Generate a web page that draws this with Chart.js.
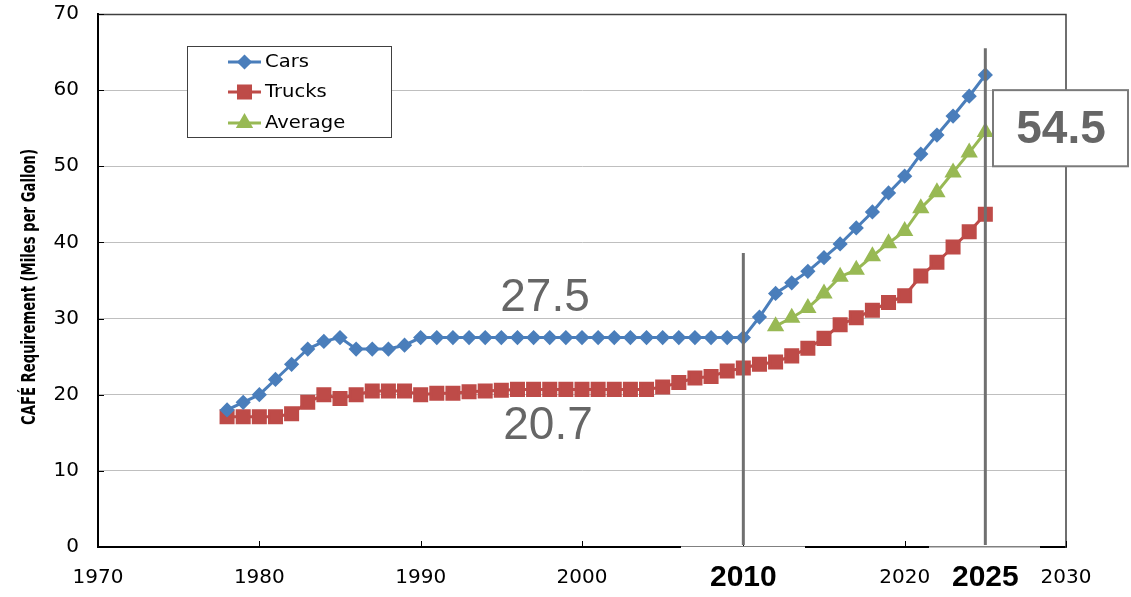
<!DOCTYPE html>
<html>
<head>
<meta charset="utf-8">
<title>CAFE Requirement</title>
<script src="https://cdn.jsdelivr.net/npm/chart.js@4.4.1/dist/chart.umd.min.js"></script>
<style>
  html, body { margin: 0; padding: 0; background: #fff; }
</style>
</head>
<body>
<canvas id="cafeChart" width="1131" height="597"></canvas>
<script>
// model years and mpg requirements
const truckYears = [1978, 1979, 1980, 1981, 1982, 1983, 1984, 1985, 1986, 1987, 1988, 1989,
  1990, 1991, 1992, 1993, 1994, 1995, 1996, 1997, 1998, 1999, 2000, 2001, 2002, 2003, 2004,
  2005, 2006, 2007, 2008, 2009, 2010, 2011, 2012, 2013, 2014, 2015, 2016, 2017, 2018, 2019,
  2020, 2021, 2022, 2023, 2024, 2025];
const carYears = truckYears;
const averageYears = [2012, 2013, 2014, 2015, 2016, 2017, 2018, 2019, 2020, 2021, 2022, 2023, 2024, 2025];

const carMpg = [18.0, 19.0, 20.0, 22.0, 24.0, 26.0, 27.0, 27.5, 26.0, 26.0, 26.0, 26.5,
  27.5, 27.5, 27.5, 27.5, 27.5, 27.5, 27.5, 27.5, 27.5, 27.5, 27.5, 27.5, 27.5, 27.5, 27.5,
  27.5, 27.5, 27.5, 27.5, 27.5, 27.5, 30.2, 33.3, 34.7, 36.2, 38.0, 39.8, 41.9, 44.0, 46.5,
  48.7, 51.6, 54.1, 56.6, 59.2, 62.0];
const truckMpg = [17.1, 17.1, 17.1, 17.1, 17.5, 19.0, 20.0, 19.5, 20.0, 20.5, 20.5, 20.5,
  20.0, 20.2, 20.2, 20.4, 20.5, 20.6, 20.7, 20.7, 20.7, 20.7, 20.7, 20.7, 20.7, 20.7, 20.7,
  21.0, 21.6, 22.2, 22.4, 23.1, 23.5, 24.0, 24.3, 25.1, 26.1, 27.4, 29.2, 30.1, 31.1, 32.1,
  33.0, 35.6, 37.4, 39.4, 41.4, 43.7];
const averageMpg = [29.0, 30.1, 31.4, 33.3, 35.5, 36.4, 38.2, 39.9, 41.5, 44.5, 46.6, 49.2, 51.8, 54.5];

const seriesNames = ['Cars', 'Trucks', 'Average'];
const xTickLabels = ['1970', '1980', '1990', '2000', '2010', '2020', '2030'];
const yTickLabels = ['0', '10', '20', '30', '40', '50', '60', '70'];
const yTitle = 'CAFÉ Requirement (Miles per Gallon)';

// callouts
const carCap = '27.5';
const truckCap = '20.7';
const averageTarget = '54.5';
const milestoneYears = ['2010', '2025'];

function toPoints(years, values) {
  return years.map((y, i) => ({ x: y, y: values[i] }));
}

const BLUE = '#4A7EBB';
const RED = '#BE4B48';
const GREEN = '#98B954';
const GREY_TEXT = '#666666';

// mpg value where each milestone line starts
const milestoneTops = [38.6, 65.5];

const annotations = {
  id: 'annotations',
  beforeDraw(chart) {
    const ctx = chart.ctx;
    ctx.save();
    ctx.fillStyle = '#fff';
    ctx.fillRect(0, 0, chart.width, chart.height);
    ctx.restore();
  },
  afterDraw(chart) {
    const ctx = chart.ctx;
    const xs = chart.scales.x;
    const ys = chart.scales.y;
    const area = chart.chartArea;
    ctx.save();

    // axis title, squeezed to a narrow bold face
    ctx.save();
    ctx.translate(30, 287);
    ctx.rotate(-Math.PI / 2);
    ctx.font = 'bold 20px "DejaVu Sans Condensed", "DejaVu Sans", sans-serif';
    const tw = ctx.measureText(yTitle).width;
    ctx.scale(276 / tw, 1);
    ctx.fillStyle = '#000';
    ctx.textAlign = 'center';
    ctx.textBaseline = 'middle';
    ctx.fillText(yTitle, 0, 0);
    ctx.restore();

    // top and right edges of the plot
    ctx.strokeStyle = '#404040';
    ctx.lineWidth = 1.5;
    ctx.beginPath();
    ctx.moveTo(area.left, area.top + 0.5);
    ctx.lineTo(area.right, area.top + 0.5);
    ctx.lineTo(area.right, area.bottom + 1);
    ctx.stroke();

    // small tick marks pointing inward
    ctx.strokeStyle = '#000';
    ctx.lineWidth = 1;
    ctx.beginPath();
    xTickLabels.forEach(t => {
      const px = Math.round(xs.getPixelForValue(+t)) + 0.5;
      ctx.moveTo(px, area.bottom);
      ctx.lineTo(px, area.bottom - 6);
    });
    yTickLabels.forEach(t => {
      const py = Math.round(ys.getPixelForValue(+t)) + 0.5;
      ctx.moveTo(area.left, py);
      ctx.lineTo(area.left + 6, py);
    });
    ctx.stroke();

    // milestone lines
    ctx.strokeStyle = '#707070';
    ctx.lineWidth = 3;
    milestoneYears.forEach((yr, i) => {
      const px = xs.getPixelForValue(+yr);
      ctx.beginPath();
      ctx.moveTo(px, ys.getPixelForValue(milestoneTops[i]));
      ctx.lineTo(px, area.bottom - 2);
      ctx.stroke();
    });

    // bold milestone year labels on white patches
    ctx.fillStyle = '#fff';
    ctx.fillRect(681, area.bottom - 0.5, 124, chart.height - area.bottom);
    ctx.fillRect(929, area.bottom - 0.5, 111, chart.height - area.bottom);
    ctx.strokeStyle = '#BFBFBF';
    ctx.lineWidth = 1;
    ctx.beginPath();
    ctx.moveTo(929, area.bottom + 0.5);
    ctx.lineTo(1040, area.bottom + 0.5);
    ctx.stroke();
    ctx.fillStyle = '#000';
    ctx.font = 'bold 30px "Liberation Sans", Arial, sans-serif';
    ctx.textAlign = 'center';
    ctx.textBaseline = 'middle';
    milestoneYears.forEach(yr => {
      ctx.fillText(yr, xs.getPixelForValue(+yr), 578);
    });

    // legend
    ctx.fillStyle = '#fff';
    ctx.fillRect(187, 46, 204, 91);
    ctx.strokeStyle = '#404040';
    ctx.lineWidth = 1;
    ctx.strokeRect(187.5, 46.5, 204, 91);
    const rowY = [62, 92, 123];
    chart.data.datasets.forEach((ds, i) => {
      const y = rowY[i];
      ctx.strokeStyle = ds.borderColor;
      ctx.lineWidth = 3;
      ctx.beginPath();
      ctx.moveTo(228, y);
      ctx.lineTo(261, y);
      ctx.stroke();
      ctx.fillStyle = ds.pointBackgroundColor;
      ctx.strokeStyle = ds.pointBorderColor;
      Chart.helpers.drawPoint(ctx, {
        pointStyle: ds.pointStyle,
        radius: ds.pointRadius,
        borderWidth: 1,
        rotation: 0
      }, 244.5, y);
      ctx.save();
      ctx.translate(265, y);
      ctx.scale(1.15, 1);
      ctx.fillStyle = '#000';
      ctx.font = '17px "DejaVu Sans", Verdana, sans-serif';
      ctx.textAlign = 'left';
      ctx.textBaseline = 'middle';
      ctx.fillText(ds.label, 0, 1);
      ctx.restore();
    });

    // 54.5 target box
    const boxTop = ys.getPixelForValue(60);
    const boxBottom = ys.getPixelForValue(50);
    ctx.fillStyle = '#fff';
    ctx.fillRect(993, boxTop, 135, boxBottom - boxTop);
    ctx.strokeStyle = '#7A7A7A';
    ctx.lineWidth = 2;
    ctx.strokeRect(993, boxTop, 135, boxBottom - boxTop);
    ctx.fillStyle = GREY_TEXT;
    ctx.font = 'bold 46px "Liberation Sans", Arial, sans-serif';
    ctx.textAlign = 'center';
    ctx.textBaseline = 'middle';
    ctx.fillText(averageTarget, 1061, (boxTop + boxBottom) / 2 + 2);

    // flat-era standards
    ctx.font = '46px "Liberation Sans", Arial, sans-serif';
    ctx.fillText(carCap, 545, 298);
    ctx.fillText(truckCap, 548, 426);

    ctx.restore();
  }
};

const ctx = document.getElementById('cafeChart').getContext('2d');

const cafeChart = new Chart(ctx, {
  type: 'line',
  data: {
    datasets: [
      {
        label: seriesNames[0],
        data: toPoints(carYears, carMpg),
        borderColor: BLUE,
        pointBackgroundColor: BLUE,
        pointBorderColor: BLUE,
        pointStyle: 'rectRot',
        pointRadius: 5.5,
        borderWidth: 3
      },
      {
        label: seriesNames[1],
        data: toPoints(truckYears, truckMpg),
        borderColor: RED,
        pointBackgroundColor: RED,
        pointBorderColor: RED,
        pointStyle: 'rect',
        pointRadius: 8.5,
        borderWidth: 3
      },
      {
        label: seriesNames[2],
        data: toPoints(averageYears, averageMpg),
        borderColor: GREEN,
        pointBackgroundColor: GREEN,
        pointBorderColor: GREEN,
        pointStyle: 'triangle',
        pointRadius: 7,
        borderWidth: 3
      }
    ]
  },
  options: {
    responsive: false,
    animation: false,
    devicePixelRatio: 1,
    layout: { padding: { top: 14, right: 65, left: 0, bottom: 0 } },
    elements: { line: { tension: 0 }, point: { borderWidth: 1 } },
    plugins: {
      legend: { display: false },
      tooltip: { enabled: false }
    },
    scales: {
      x: {
        type: 'linear',
        min: 1970,
        max: 2030,
        afterFit: s => { s.height = 50; s.paddingLeft = 0; s.paddingRight = 0; },
        afterBuildTicks: s => { s.ticks = xTickLabels.map(t => ({ value: +t })); },
        grid: { display: false, drawTicks: false },
        border: { display: true, color: '#000', width: 2 },
        ticks: {
          autoSkip: false,
          maxRotation: 0,
          padding: 19,
          color: '#000',
          font: { family: '"DejaVu Sans", Verdana, sans-serif', size: 20 },
          callback: (v) => xTickLabels[xTickLabels.indexOf(String(v))]
        }
      },
      y: {
        min: 0,
        max: 70,
        afterFit: s => { s.width = 98; s.paddingTop = 0; s.paddingBottom = 0; },
        afterBuildTicks: s => { s.ticks = yTickLabels.map(t => ({ value: +t })); },
        grid: { color: '#BFBFBF', lineWidth: 1, drawTicks: false },
        border: { display: true, color: '#000', width: 2 },
        ticks: {
          padding: 19,
          color: '#000',
          font: { family: '"DejaVu Sans", Verdana, sans-serif', size: 20 },
          callback: (v) => yTickLabels[yTickLabels.indexOf(String(v))]
        }
      }
    }
  },
  plugins: [annotations]
});
</script>
</body>
</html>
